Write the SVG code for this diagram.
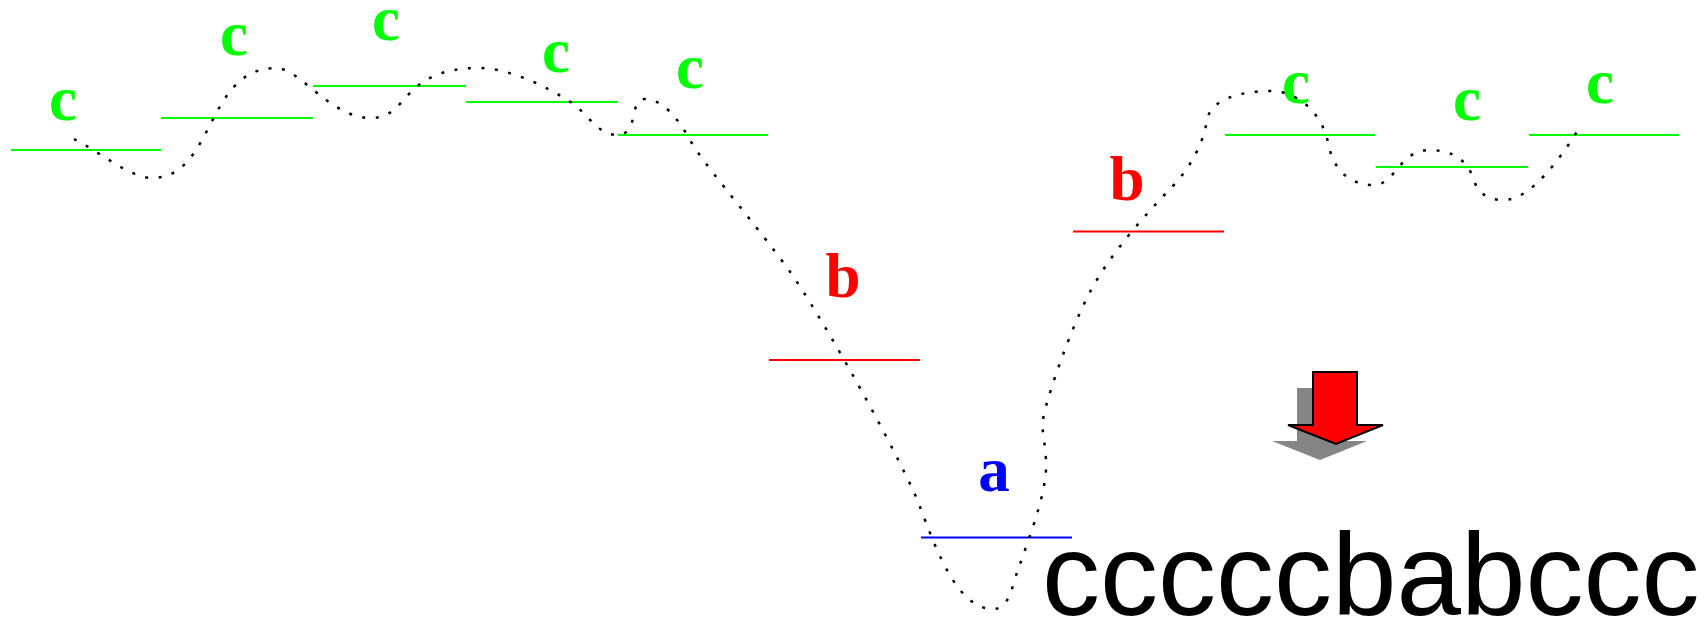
<svg xmlns="http://www.w3.org/2000/svg" width="1706" height="620" viewBox="0 0 1706 620">
<style>
.lv{stroke-width:2;fill:none}
.g{stroke:#00ff00}
.r{stroke:#ff0000}
.bl{stroke:#0000ff}
.lab{font-family:"Liberation Serif",serif;font-weight:bold;font-size:63px;text-anchor:middle}
.tg{fill:#00ff00}
.tr{fill:#ff0000}
.tb{fill:#0000ff}
.path{fill:none;stroke:#000;stroke-width:2.5;stroke-dasharray:3 10.5}
</style>
<rect width="1706" height="620" fill="#fff"/>
<g id="levels">
<line class="lv g" x1="11" y1="150" x2="161" y2="150"/>
<line class="lv g" x1="161" y1="118" x2="313" y2="118"/>
<line class="lv g" x1="313" y1="86" x2="466" y2="86"/>
<line class="lv g" x1="466" y1="102" x2="618" y2="102"/>
<line class="lv g" x1="618" y1="135" x2="768" y2="135"/>
<line class="lv r" x1="769" y1="360" x2="920" y2="360"/>
<line class="lv bl" x1="921" y1="537.5" x2="1072" y2="537.5"/>
<line class="lv r" x1="1073" y1="231.5" x2="1224" y2="231.5"/>
<line class="lv g" x1="1225" y1="135" x2="1375" y2="135"/>
<line class="lv g" x1="1376" y1="167" x2="1528" y2="167"/>
<line class="lv g" x1="1529" y1="135" x2="1679" y2="135"/>
</g>
<g id="labels">
<text class="lab tg" x="63" y="120">c</text>
<text class="lab tg" x="234" y="55">c</text>
<text class="lab tg" x="386" y="40">c</text>
<text class="lab tg" x="556" y="72">c</text>
<text class="lab tg" x="690" y="88">c</text>
<text class="lab tr" x="843" y="297">b</text>
<text class="lab tb" x="994" y="491">a</text>
<text class="lab tr" x="1127" y="200">b</text>
<text class="lab tg" x="1296" y="103">c</text>
<text class="lab tg" x="1467" y="120">c</text>
<text class="lab tg" x="1600" y="103">c</text>
</g>
<g id="connectors">
<path class="path" d="M74,139 C100,152 130,178 152,178 C215,178 205,68 276,68 C300,68 330,118 371,118 C410,118 400,68 479,68 C510,68 550,88 575,105 C590,118 600,135 617,135 C640,135 628,99 645,99 C662,99 678,118 690,140 C702,162 740,205 783,262 C812,300 880,420 913,490 C928,522 950,609 993,609 C1010,609 1012,585 1018,570 C1030,535 1048,490 1046,460 S1040,430 1045,410 C1050,390 1070,330 1090,292 C1110,254 1145,215 1171,188 C1190,168 1203,145 1207,120 C1210,100 1240,91 1270,91 C1300,91 1322,115 1328,142 C1332,165 1345,185 1374,185 C1395,185 1400,150 1429,150 C1455,150 1468,162 1474,180 C1478,195 1490,200 1504,200 C1530,200 1560,160 1581,125"/>
</g>
<g id="arrow">
<polygon fill="#858585" points="1297,388 1341,388 1341,441 1367,441 1320,460 1272,441 1297,441"/>
<polygon fill="#ff0000" stroke="#000" stroke-width="2" stroke-linejoin="miter" points="1313,372 1357,372 1357,425 1383,425 1336,444 1288,425 1313,425"/>
</g>
<g id="sequence">
<text x="1042" y="615" font-family="'Liberation Sans',Arial,sans-serif" font-size="116" fill="#000">cccccbabccc</text>
</g>
</svg>
